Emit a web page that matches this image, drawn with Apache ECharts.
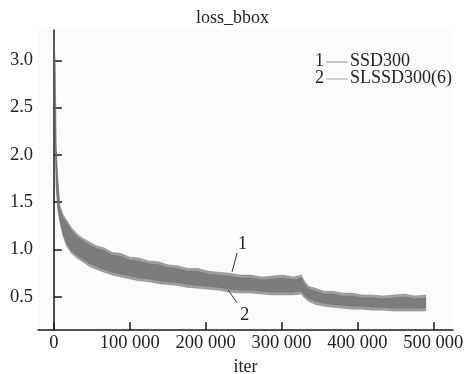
<!DOCTYPE html>
<html>
<head>
<meta charset="utf-8">
<script src="https://cdn.jsdelivr.net/npm/echarts@6/dist/echarts.min.js"></script>
<style>
  html, body { margin: 0; padding: 0; background: #fff; }
  #chart { width: 465px; height: 374px; }
</style>
</head>
<body>
<div id="chart"></div>
<script>
const iters = [0, 1500, 3000, 5000, 8000, 12000, 17000, 23000, 30000, 38000, 47000, 56000, 66000, 77000,
  88000, 100000, 112000, 125000, 138000, 150000, 163000, 176000, 190000, 204000, 218000, 232000, 246000,
  260000, 274000, 288000, 302000, 316000, 326000, 330000, 336000, 345000, 356000, 368000, 380000, 393000,
  406000, 420000, 434000, 448000, 462000, 476000, 490000];

// SSD300 (curve 1): upper / lower edge of the noisy band
const ssdHigh = [3.25, 3.0, 2.1, 1.76, 1.46, 1.37, 1.31, 1.23, 1.17, 1.12, 1.08, 1.04, 1.02, 0.97,
  0.96, 0.92, 0.91, 0.88, 0.87, 0.84, 0.83, 0.80, 0.80, 0.77, 0.76, 0.75, 0.73,
  0.73, 0.71, 0.72, 0.73, 0.71, 0.73, 0.67, 0.61, 0.59, 0.56, 0.56, 0.54, 0.54,
  0.52, 0.52, 0.51, 0.52, 0.53, 0.51, 0.52];
const ssdLow = [2.93, 2.25, 1.68, 1.45, 1.31, 1.17, 1.06, 0.99, 0.94, 0.90, 0.85, 0.82, 0.79, 0.76,
  0.74, 0.72, 0.70, 0.69, 0.67, 0.66, 0.65, 0.63, 0.62, 0.61, 0.60, 0.58, 0.57,
  0.57, 0.56, 0.55, 0.55, 0.55, 0.56, 0.52, 0.48, 0.45, 0.43, 0.42, 0.41, 0.40,
  0.40, 0.39, 0.39, 0.38, 0.38, 0.38, 0.38];

// SLSSD300(6) (curve 2)
const slHigh = [3.2, 2.95, 2.05, 1.72, 1.43, 1.34, 1.28, 1.20, 1.14, 1.09, 1.05, 1.01, 0.99, 0.94,
  0.93, 0.89, 0.88, 0.85, 0.84, 0.81, 0.80, 0.77, 0.77, 0.74, 0.73, 0.72, 0.70,
  0.70, 0.68, 0.69, 0.70, 0.68, 0.70, 0.64, 0.58, 0.56, 0.53, 0.53, 0.51, 0.51,
  0.49, 0.49, 0.48, 0.49, 0.50, 0.48, 0.49];
const slLow = [2.9, 2.2, 1.65, 1.42, 1.28, 1.14, 1.03, 0.96, 0.91, 0.87, 0.82, 0.79, 0.76, 0.73,
  0.71, 0.69, 0.67, 0.66, 0.64, 0.63, 0.62, 0.60, 0.59, 0.58, 0.57, 0.55, 0.54,
  0.54, 0.53, 0.52, 0.52, 0.52, 0.53, 0.49, 0.45, 0.42, 0.40, 0.39, 0.38, 0.37,
  0.37, 0.36, 0.36, 0.35, 0.35, 0.35, 0.35];

const xTicks = [0, 100000, 200000, 300000, 400000, 500000];
const yTicks = [0.5, 1.0, 1.5, 2.0, 2.5, 3.0];
const legendNames = ['SSD300', 'SLSSD300(6)'];

const FONT = '"Liberation Serif", "DejaVu Serif", serif';
const TEXT = '#222';
const LABEL_SIZE = 18.5;
const TEXT_SIZE = 18;

// noisy band drawn as one polygon: upper edge left->right, lower edge right->left
function band(name, low, high, color) {
  return {
    name: name, type: 'custom', silent: true, clip: true,
    data: iters.map((x, i) => [x, low[i], high[i]]),
    encode: { x: 0, y: [1, 2] },
    renderItem: (params, api) => {
      if (params.dataIndex !== 0) return null;
      const top = iters.map((x, i) => api.coord([x, high[i]]));
      const bottom = iters.map((x, i) => api.coord([x, low[i]])).reverse();
      return {
        type: 'polygon',
        shape: { points: top.concat(bottom) },
        style: { fill: color, stroke: color, lineWidth: 0.6 }
      };
    }
  };
}

const s1 = band('SSD300', ssdLow, ssdHigh, 'rgba(100,100,100,0.6)');
const s2 = band('SLSSD300(6)', slLow, slHigh, 'rgba(100,100,100,0.6)');

// curve labels "1" and "2" with their leader lines, in data coordinates
const notes = {
  name: 'notes', type: 'line', data: [], silent: true,
  markLine: {
    silent: true, symbol: 'none', label: { show: false },
    lineStyle: { color: '#333', width: 1, type: 'solid' },
    data: [
      [{ coord: [241400, 0.964] }, { coord: [234800, 0.764] }],
      [{ coord: [229500, 0.574] }, { coord: [241400, 0.437] }]
    ]
  },
  markPoint: {
    silent: true, symbol: 'circle', symbolSize: 0,
    label: { show: true, color: TEXT, fontFamily: FONT, fontSize: TEXT_SIZE, position: 'inside' },
    data: [
      { coord: [248500, 1.06], label: { formatter: '1' } },
      { coord: [251500, 0.31], label: { formatter: '2' } }
    ]
  }
};

const chart = echarts.init(document.getElementById('chart'));
chart.setOption({
  animation: false,
  backgroundColor: '#fff',
  title: {
    text: 'loss_bbox', left: 191, top: 4,
    textStyle: { fontFamily: FONT, fontWeight: 'normal', fontSize: TEXT_SIZE, color: TEXT }
  },
  grid: {
    left: 38, right: 12, top: 30, bottom: 44, outerBoundsMode: 'none', containLabel: false,
    show: true, backgroundColor: '#fbfbfb', borderWidth: 0
  },
  xAxis: {
    type: 'value', min: -21000, max: 526000,
    name: 'iter', nameLocation: 'middle', nameGap: 28,
    nameTextStyle: { fontFamily: FONT, fontSize: TEXT_SIZE, color: TEXT },
    splitLine: { show: false },
    axisLine: { show: true, lineStyle: { color: '#1a1a1a', width: 1.5 } },
    axisTick: { show: true, inside: true, length: 8, customValues: xTicks, lineStyle: { color: '#1a1a1a', width: 1.5 } },
    axisLabel: {
      customValues: xTicks, margin: 4, fontFamily: FONT, fontSize: LABEL_SIZE, color: TEXT,
      formatter: v => v === 0 ? '0' : String(v).replace(/\B(?=(\d{3})+(?!\d))/g, ' ')
    }
  },
  yAxis: {
    type: 'value', min: 0.15, max: 3.32,
    splitLine: { show: false },
    axisLine: { show: true, lineStyle: { color: '#1a1a1a', width: 1.5 } },
    axisTick: { show: true, inside: true, length: 8, customValues: yTicks, lineStyle: { color: '#1a1a1a', width: 1.5 } },
    axisLabel: {
      customValues: yTicks, margin: 5, fontFamily: FONT, fontSize: LABEL_SIZE, color: TEXT,
      formatter: v => v.toFixed(1)
    }
  },
  graphic: [
    { type: 'text', left: 315, top: 52, style: { text: '1', font: TEXT_SIZE + 'px ' + FONT, fill: TEXT } },
    { type: 'line', shape: { x1: 326, y1: 62, x2: 348, y2: 62 }, style: { stroke: '#c4c4c4', lineWidth: 2 } },
    { type: 'text', left: 350, top: 52, style: { text: legendNames[0], font: TEXT_SIZE + 'px ' + FONT, fill: TEXT } },
    { type: 'text', left: 315, top: 69, style: { text: '2', font: TEXT_SIZE + 'px ' + FONT, fill: TEXT } },
    { type: 'line', shape: { x1: 326, y1: 79, x2: 348, y2: 79 }, style: { stroke: '#d0d0d0', lineWidth: 2 } },
    { type: 'text', left: 350, top: 69, style: { text: legendNames[1], font: TEXT_SIZE + 'px ' + FONT, fill: TEXT } }
  ],
  series: [s1, s2, notes]
});
</script>
</body>
</html>
